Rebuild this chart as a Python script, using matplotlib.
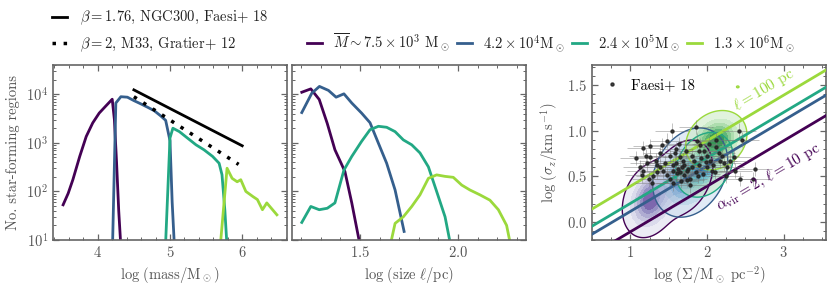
import numpy as np
import matplotlib
matplotlib.use('Agg')
import matplotlib.pyplot as plt
from matplotlib.lines import Line2D
from matplotlib.ticker import AutoMinorLocator

plt.rcParams['font.family'] = 'serif'
plt.rcParams['font.serif'] = ['cmr10', 'DejaVu Serif']
plt.rcParams['mathtext.fontset'] = 'cm'
plt.rcParams['axes.formatter.use_mathtext'] = True
plt.rcParams['font.size'] = 10.5
plt.rcParams['axes.unicode_minus'] = False

# --- data -----------------------------------------------------------------
colors = ['#440154', '#355f8d', '#22a884', '#9bd93c']
fill_cmaps = ['Purples', 'Blues', 'GnBu', 'Greens']
mass_labels = [r'$\overline{M}\sim 7.5\times10^3\ \mathrm{M}_\odot$',
               r'$4.2\times10^4\mathrm{M}_\odot$',
               r'$2.4\times10^5\mathrm{M}_\odot$',
               r'$1.3\times10^6\mathrm{M}_\odot$']

# mass functions (log mass, counts)
mass_x = [
    [3.52, 3.59, 3.655, 3.75, 3.84, 3.93, 4.02, 4.11, 4.20, 4.23, 4.26, 4.29, 4.33],
    [4.20, 4.25, 4.32, 4.41, 4.50, 4.60, 4.69, 4.78, 4.87, 4.94, 5.00, 5.03, 5.07],
    [4.93, 5.00, 5.04, 5.13, 5.24, 5.36, 5.47, 5.59, 5.68, 5.72, 5.76, 5.80],
    [5.68, 5.79, 5.86, 5.93, 5.98, 6.05, 6.15, 6.21, 6.28, 6.34, 6.48],
]
mass_n = [
    [53, 91, 174, 525, 1350, 2570, 4100, 5700, 7900, 3000, 400, 40, 4],
    [4, 6600, 8900, 8700, 7400, 6300, 5400, 4600, 3600, 2900, 1100, 60, 4],
    [4, 1260, 2000, 1700, 1260, 910, 720, 525, 380, 220, 40, 4],
    [4, 300, 186, 158, 174, 100, 78, 68, 42, 58, 33],
]

# size functions (log size, counts)
size_x = [
    [1.203, 1.249, 1.292, 1.333, 1.372, 1.423, 1.458, 1.495, 1.52],
    [1.203, 1.254, 1.293, 1.339, 1.378, 1.418, 1.458, 1.508, 1.551, 1.594, 1.636,
     1.679, 1.725],
    [1.203, 1.249, 1.292, 1.333, 1.372, 1.418, 1.458, 1.508, 1.551, 1.594, 1.636,
     1.679, 1.721, 1.764, 1.806, 1.849, 1.891, 1.934, 1.962],
    [1.655, 1.679, 1.721, 1.764, 1.806, 1.849, 1.891, 1.934, 1.976, 2.019, 2.061,
     2.112, 2.163, 2.206, 2.248, 2.268],
]
size_n = [
    [11000, 12900, 7800, 2500, 720, 257, 58, 10, 3],
    [4200, 10500, 14500, 12000, 8700, 10200, 6600, 4100, 2600, 980, 380, 107, 15],
    [23, 49, 42, 45, 58, 275, 525, 1070, 1860, 2190, 2090, 1700, 1150, 910, 620,
     320, 100, 30, 8],
    [8, 22, 30, 49, 85, 186, 219, 204, 195, 135, 107, 85, 66, 42, 20, 8],
]

# power-law reference slopes
beta_x = [[4.5, 6.0], [4.5, 5.95]]
beta_n = [[12300, 870], [8900, 360]]
beta_labels = [r'$\beta=1.76$, NGC300, Faesi+ 18', r'$\beta=2$, M33, Gratier+ 12']

# virial lines: alpha_vir = 2 for these sizes (pc)
ell_pc = [10, 28, 42, 100]
vir_const = -1.11

# Faesi+ 18 clouds: log Sigma, log sigma_z
faesi_x = [1.08, 1.17, 1.26, 1.26, 1.33, 1.39, 1.41, 1.48, 1.54, 1.59, 1.63, 1.65,
           1.67, 1.74, 1.83, 1.86, 1.87, 1.91, 1.96, 1.98, 2.00, 2.04, 2.06, 2.11,
           2.15, 2.17, 2.22, 2.26, 2.30, 2.35, 2.42, 2.46, 2.37, 2.43, 1.43, 1.48,
           1.52, 1.56, 1.61, 1.65, 1.70, 1.74, 1.78, 1.80, 1.39, 1.35, 1.22, 1.17,
           1.24, 1.28, 2.63, 2.60, 1.15, 1.55, 1.60, 1.70, 1.75, 1.85, 1.90, 1.92,
           2.00, 2.08, 1.62, 1.68, 1.80, 1.88, 1.95, 2.10, 1.45, 1.52, 1.58, 1.72,
           1.90, 2.02, 2.12, 1.78, 1.55, 1.35, 1.30, 1.12, 1.20, 2.20, 2.25, 1.66]
faesi_y = [0.70, 0.81, 0.83, 0.71, 0.67, 0.75, 0.84, 0.89, 1.00, 0.80, 0.85, 0.71,
           0.60, 0.56, 0.67, 1.04, 0.89, 0.84, 0.78, 0.66, 0.60, 0.67, 0.56, 0.82,
           0.75, 0.67, 0.64, 0.60, 0.67, 0.71, 1.00, 0.90, 0.56, 0.47, 0.56, 0.51,
           0.47, 0.56, 0.53, 0.55, 0.51, 0.46, 0.47, 0.60, 0.60, 0.62, 0.64, 0.56,
           0.47, 0.42, 0.58, 0.47, 0.51, 0.62, 0.65, 0.62, 0.58, 0.55, 0.62, 0.70,
           0.72, 0.62, 0.58, 0.67, 0.72, 0.50, 0.52, 0.55, 0.65, 0.72, 0.75, 0.78,
           0.78, 0.85, 0.90, 0.40, 0.42, 0.55, 0.50, 0.60, 0.72, 0.72, 0.50, 0.45]

# density blobs for the simulated clouds: (x0, y0, sx, sy, rho, amplitude)
blobs = [
    [(1.26, 0.24, 0.15, 0.17, 0.25, 1.0), (1.68, 0.48, 0.17, 0.18, 0.3, 0.75)],
    [(1.78, 0.54, 0.20, 0.20, 0.25, 1.0)],
    [(1.965, 0.625, 0.153, 0.145, 0.25, 1.0)],
    [(2.12, 0.895, 0.163, 0.133, 0.2, 1.0), (2.40, 1.48, 0.02, 0.012, 0.0, 0.07)],
]
kde_levels = [0.05, 0.2, 0.35, 0.5, 0.65, 0.8]

GRAY = '#666666'
TXT = '#555555'


def style(ax):
    for s in ax.spines.values():
        s.set_color(GRAY)
        s.set_linewidth(1.2)
    ax.tick_params(which='both', direction='in', top=True, right=True,
                   colors=GRAY, labelcolor=TXT, labelsize=10.5)
    ax.tick_params(which='major', length=4, width=0.9)
    ax.tick_params(which='minor', length=2, width=0.7)


fig = plt.figure(figsize=(8.31, 2.89), dpi=100)
W, H = 831, 289
ax1 = fig.add_axes([53 / W, 49 / H, 234 / W, 175 / H])
ax2 = fig.add_axes([292 / W, 49 / H, 234 / W, 175 / H], sharey=ax1)
ax3 = fig.add_axes([592 / W, 49 / H, 234 / W, 175 / H])

# panel 1: mass function
for i in range(4):
    ax1.plot(mass_x[i], mass_n[i], color=colors[i], lw=2)
ax1.plot(beta_x[0], beta_n[0], color='k', lw=2)
ax1.plot(beta_x[1], beta_n[1], color='k', lw=2.5, ls=(0, (1, 2.2)))
ax1.set_yscale('log')
ax1.set_ylim(10, 4e4)
ax1.set_xlim(3.38, 6.62)
ax1.set_xticks([4, 5, 6])
ax1.xaxis.set_minor_locator(AutoMinorLocator(5))
ax1.set_xlabel(r'$\log\,(\mathrm{mass}/\mathrm{M}_\odot)$', color=TXT)
ax1.set_ylabel('No. star-forming regions', color=TXT)
style(ax1)

# panel 2: size function
for i in range(4):
    ax2.plot(size_x[i], size_n[i], color=colors[i], lw=2)
ax2.set_xlim(1.153, 2.347)
ax2.set_xticks([1.5, 2.0])
ax2.xaxis.set_minor_locator(AutoMinorLocator(5))
ax2.set_xlabel(r'$\log\,(\mathrm{size}\ \ell/\mathrm{pc})$', color=TXT)
plt.setp(ax2.get_yticklabels(), visible=False)
style(ax2)

# panel 3: sigma vs Sigma
xlim3 = (0.5, 3.55)
ylim3 = (-0.2, 1.72)
ax3.set_xlim(*xlim3)
ax3.set_ylim(*ylim3)
gx, gy = np.meshgrid(np.linspace(*xlim3, 500), np.linspace(*ylim3, 500))
for i in range(4):
    z = np.zeros_like(gx)
    for (x0, y0, sx, sy, rho, amp) in blobs[i]:
        u = (gx - x0) / sx
        v = (gy - y0) / sy
        z += amp * np.exp(-(u**2 - 2 * rho * u * v + v**2) / (2 * (1 - rho**2)))
    z = z / z.max()
    band = np.digitize(z, kde_levels)  # 0 = outside
    cmap = plt.get_cmap(fill_cmaps[i])
    rgba = cmap(0.15 + 0.1 * band)
    rgba[..., 3] = np.where(band > 0, 0.45 + 0.07 * band, 0.0)
    ax3.imshow(rgba, extent=(*xlim3, *ylim3), origin='lower', aspect='auto',
               interpolation='nearest', zorder=1)
    ax3.contour(gx, gy, z, levels=[0.05], colors=[colors[i]], linewidths=1, zorder=2)

xs = np.array(xlim3)
for i in range(4):
    ax3.plot(xs, 0.5 * (xs + np.log10(ell_pc[i])) + vir_const, color=colors[i],
             lw=2, zorder=3)

ax3.errorbar(faesi_x, faesi_y, xerr=0.22, yerr=0.08, fmt='none', ecolor='#777777',
             elinewidth=0.7, alpha=0.45, zorder=4)
ax3.plot(faesi_x, faesi_y, 'o', color='#222222', ms=2.2, ls='none', alpha=0.85,
         zorder=5, label='Faesi+ 18')
ax3.legend(loc='upper left', frameon=False, handlelength=1, handletextpad=0.8,
           markerscale=1.0, fontsize=10.5)

# angle of the virial lines on screen
p = ax3.transData.transform([[1.0, 0.0], [2.0, 0.5]])
ang = np.degrees(np.arctan2(p[1, 1] - p[0, 1], p[1, 0] - p[0, 0]))
ax3.text(2.74, 1.45, r'$\ell=100$ pc', color=colors[3], fontsize=11,
         rotation=ang, rotation_mode='anchor', ha='center', va='center', zorder=6)
ax3.text(2.80, 0.49, r'$\alpha_\mathrm{vir}=2$, $\ell=10$ pc', color=colors[0],
         fontsize=11, rotation=ang, rotation_mode='anchor', ha='center',
         va='center', zorder=6)

ax3.set_xticks([1, 2, 3])
ax3.set_yticks([0.0, 0.5, 1.0, 1.5])
ax3.xaxis.set_minor_locator(AutoMinorLocator(4))
ax3.yaxis.set_minor_locator(AutoMinorLocator(5))
ax3.set_xlabel(r'$\log\,(\Sigma/\mathrm{M_\odot\ pc^{-2}})$', color=TXT)
ax3.set_ylabel(r'$\log\,(\sigma_z/\mathrm{km\ s^{-1}})$', color=TXT)
style(ax3)

# figure legends
h1 = [Line2D([], [], color='k', lw=2), Line2D([], [], color='k', lw=2.5, ls=(0, (1, 2.2)))]
fig.legend(h1, beta_labels, loc='upper left', bbox_to_anchor=(52 / W, 1 - 9 / H),
           frameon=False, handlelength=1, handletextpad=0.9, labelspacing=0.55,
           borderpad=0, borderaxespad=0, labelcolor='#222222')
h2 = [Line2D([], [], color=c, lw=2) for c in colors]
fig.legend(h2, mass_labels, loc='center left', bbox_to_anchor=(307 / W, 1 - 43 / H),
           ncol=4, frameon=False, handlelength=1, handletextpad=0.8,
           columnspacing=0.5, borderpad=0, borderaxespad=0, labelcolor='#222222')

fig.savefig('out.png', dpi=100)
